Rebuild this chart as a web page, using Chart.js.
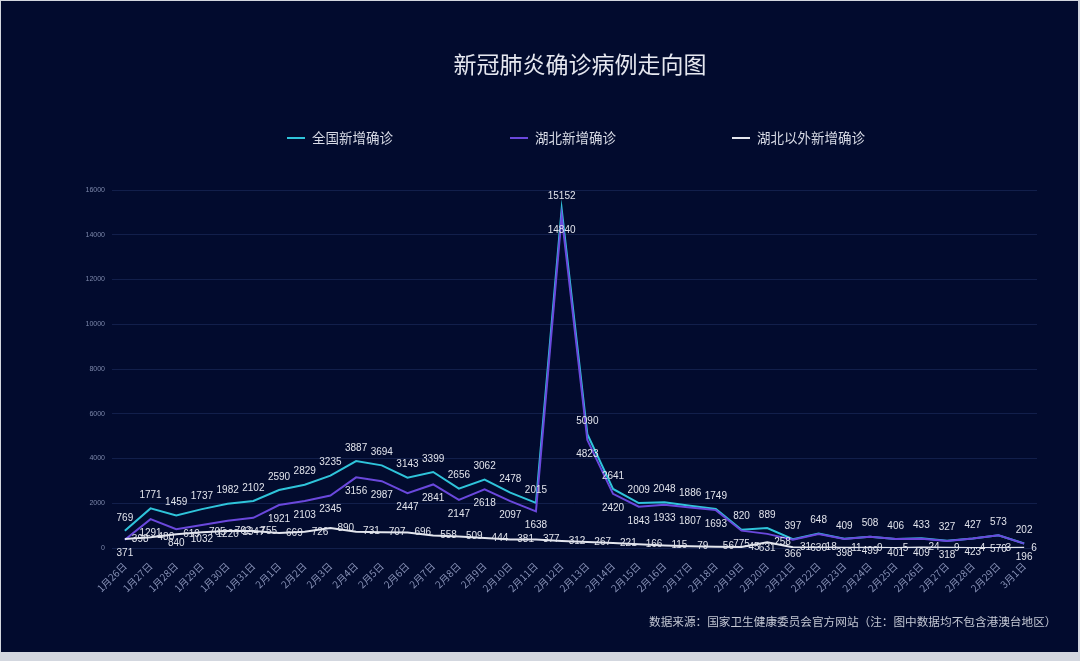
<!DOCTYPE html>
<html>
<head>
<meta charset="utf-8">
<script src="https://cdn.jsdelivr.net/npm/chart.js@4/dist/chart.umd.min.js"></script>
<style>
  html,body{margin:0;padding:0;background:#d3d7df;}
  #wrap{position:relative;width:1080px;height:661px;overflow:hidden;}
  #bg{position:absolute;left:1px;top:1px;width:1077px;height:651px;background:#020b2e;}
  canvas{position:absolute;left:0;top:0;}
  .t{position:absolute;font-family:"Noto Sans CJK SC","Noto Sans",sans-serif;white-space:nowrap;}
  #title{left:380px;width:400px;top:46px;text-align:center;font-size:23px;color:#e6e8f0;}
  .lg{top:127px;font-size:13.5px;color:#d8dbe6;}
  .lg i{display:inline-block;width:18px;height:2px;vertical-align:middle;margin-right:7px;position:relative;top:-1px;}
  #note{left:649px;top:612px;font-size:11.65px;color:#c4c8d4;}
</style>
</head>
<body>
<div id="wrap">
  <div id="bg"></div>
  <canvas id="c" width="1080" height="661"></canvas>
  <div class="t" id="title">新冠肺炎确诊病例走向图</div>
  <div class="t lg" style="left:287px"><i style="background:#2fc4da"></i>全国新增确诊</div>
  <div class="t lg" style="left:510px"><i style="background:#6a48dc"></i>湖北新增确诊</div>
  <div class="t lg" style="left:732px"><i style="background:#e4e6ee"></i>湖北以外新增确诊</div>
  <div class="t" id="note">数据来源：国家卫生健康委员会官方网站（注：图中数据均不包含港澳台地区）</div>
</div>
<script>
const dates = ['1月26日','1月27日','1月28日','1月29日','1月30日','1月31日',
  '2月1日','2月2日','2月3日','2月4日','2月5日','2月6日','2月7日','2月8日','2月9日','2月10日',
  '2月11日','2月12日','2月13日','2月14日','2月15日','2月16日','2月17日','2月18日','2月19日','2月20日',
  '2月21日','2月22日','2月23日','2月24日','2月25日','2月26日','2月27日','2月28日','2月29日','3月1日'];
const national = [769,1771,1459,1737,1982,2102,2590,2829,3235,3887,3694,3143,3399,2656,3062,2478,
  2015,15152,5090,2641,2009,2048,1886,1749,820,889,397,648,409,508,406,433,327,427,573,202];
const hubei = [371,1291,840,1032,1220,1347,1921,2103,2345,3156,2987,2447,2841,2147,2618,2097,
  1638,14840,4823,2420,1843,1933,1807,1693,775,631,366,630,398,499,401,409,318,423,570,196];
const outside = [398,480,619,705,762,755,669,726,890,731,707,696,558,509,444,381,
  377,312,267,221,166,115,79,56,45,258,31,18,11,9,5,24,9,4,3,6];
const yTicks = [0,2000,4000,6000,8000,10000,12000,14000,16000];

const labelPos = ['top','bottom','right'];
const valueLabels = {
  id:'valueLabels',
  afterDatasetsDraw(chart){
    const ctx = chart.ctx;
    ctx.save();
    ctx.font = '10px "Liberation Sans", "Noto Sans", sans-serif';
    ctx.fillStyle = '#e2e4ec';
    chart.data.datasets.forEach((ds,i)=>{
      const meta = chart.getDatasetMeta(i);
      meta.data.forEach((pt,j)=>{
        const v = ds.data[j];
        const pos = labelPos[i];
        if(pos==='top'){ctx.textAlign='center';ctx.textBaseline='middle';ctx.fillText(v,pt.x,pt.y-13);}
        else if(pos==='bottom'){ctx.textAlign='center';ctx.textBaseline='middle';ctx.fillText(v,pt.x,pt.y+14);}
        else {ctx.textAlign='left';ctx.textBaseline='middle';ctx.fillText(v,pt.x+7,pt.y);}
      });
    });
    ctx.restore();
  }
};

new Chart(document.getElementById('c'),{
  type:'line',
  data:{
    labels:dates,
    datasets:[
      {label:'全国新增确诊',data:national,borderColor:'#2fc4da',borderWidth:2,pointRadius:0,tension:0,order:2},
      {label:'湖北新增确诊',data:hubei,borderColor:'#6a48dc',borderWidth:2,pointRadius:0,tension:0,order:1},
      {label:'湖北以外新增确诊',data:outside,borderColor:'#e4e6ee',borderWidth:2,pointRadius:0,tension:0,order:0}
    ]
  },
  options:{
    responsive:false,
    animation:false,
    layout:{padding:{left:60,top:190,right:43,bottom:0}},
    plugins:{legend:{display:false},title:{display:false},tooltip:{enabled:false}},
    scales:{
      x:{
        offset:true,
        grid:{display:false},
        border:{display:false},
        ticks:{color:'#8791b6',font:{size:10,family:'"Noto Sans CJK SC", sans-serif'},maxRotation:45,minRotation:45,autoSkip:false,padding:4},
        afterFit(s){s.height=113;}
      },
      y:{
        min:0,max:16000,
        afterBuildTicks(s){s.ticks=yTicks.map(v=>({value:v}));},
        grid:{color:'rgba(50,70,130,0.35)',lineWidth:1,drawTicks:false},
        border:{display:false},
        ticks:{color:'#7c87aa',font:{size:7,family:'"Liberation Sans", sans-serif'},padding:7,callback:(v)=>String(v)},
        afterFit(s){s.width=52;}
      }
    }
  },
  plugins:[valueLabels]
});
</script>
</body>
</html>
